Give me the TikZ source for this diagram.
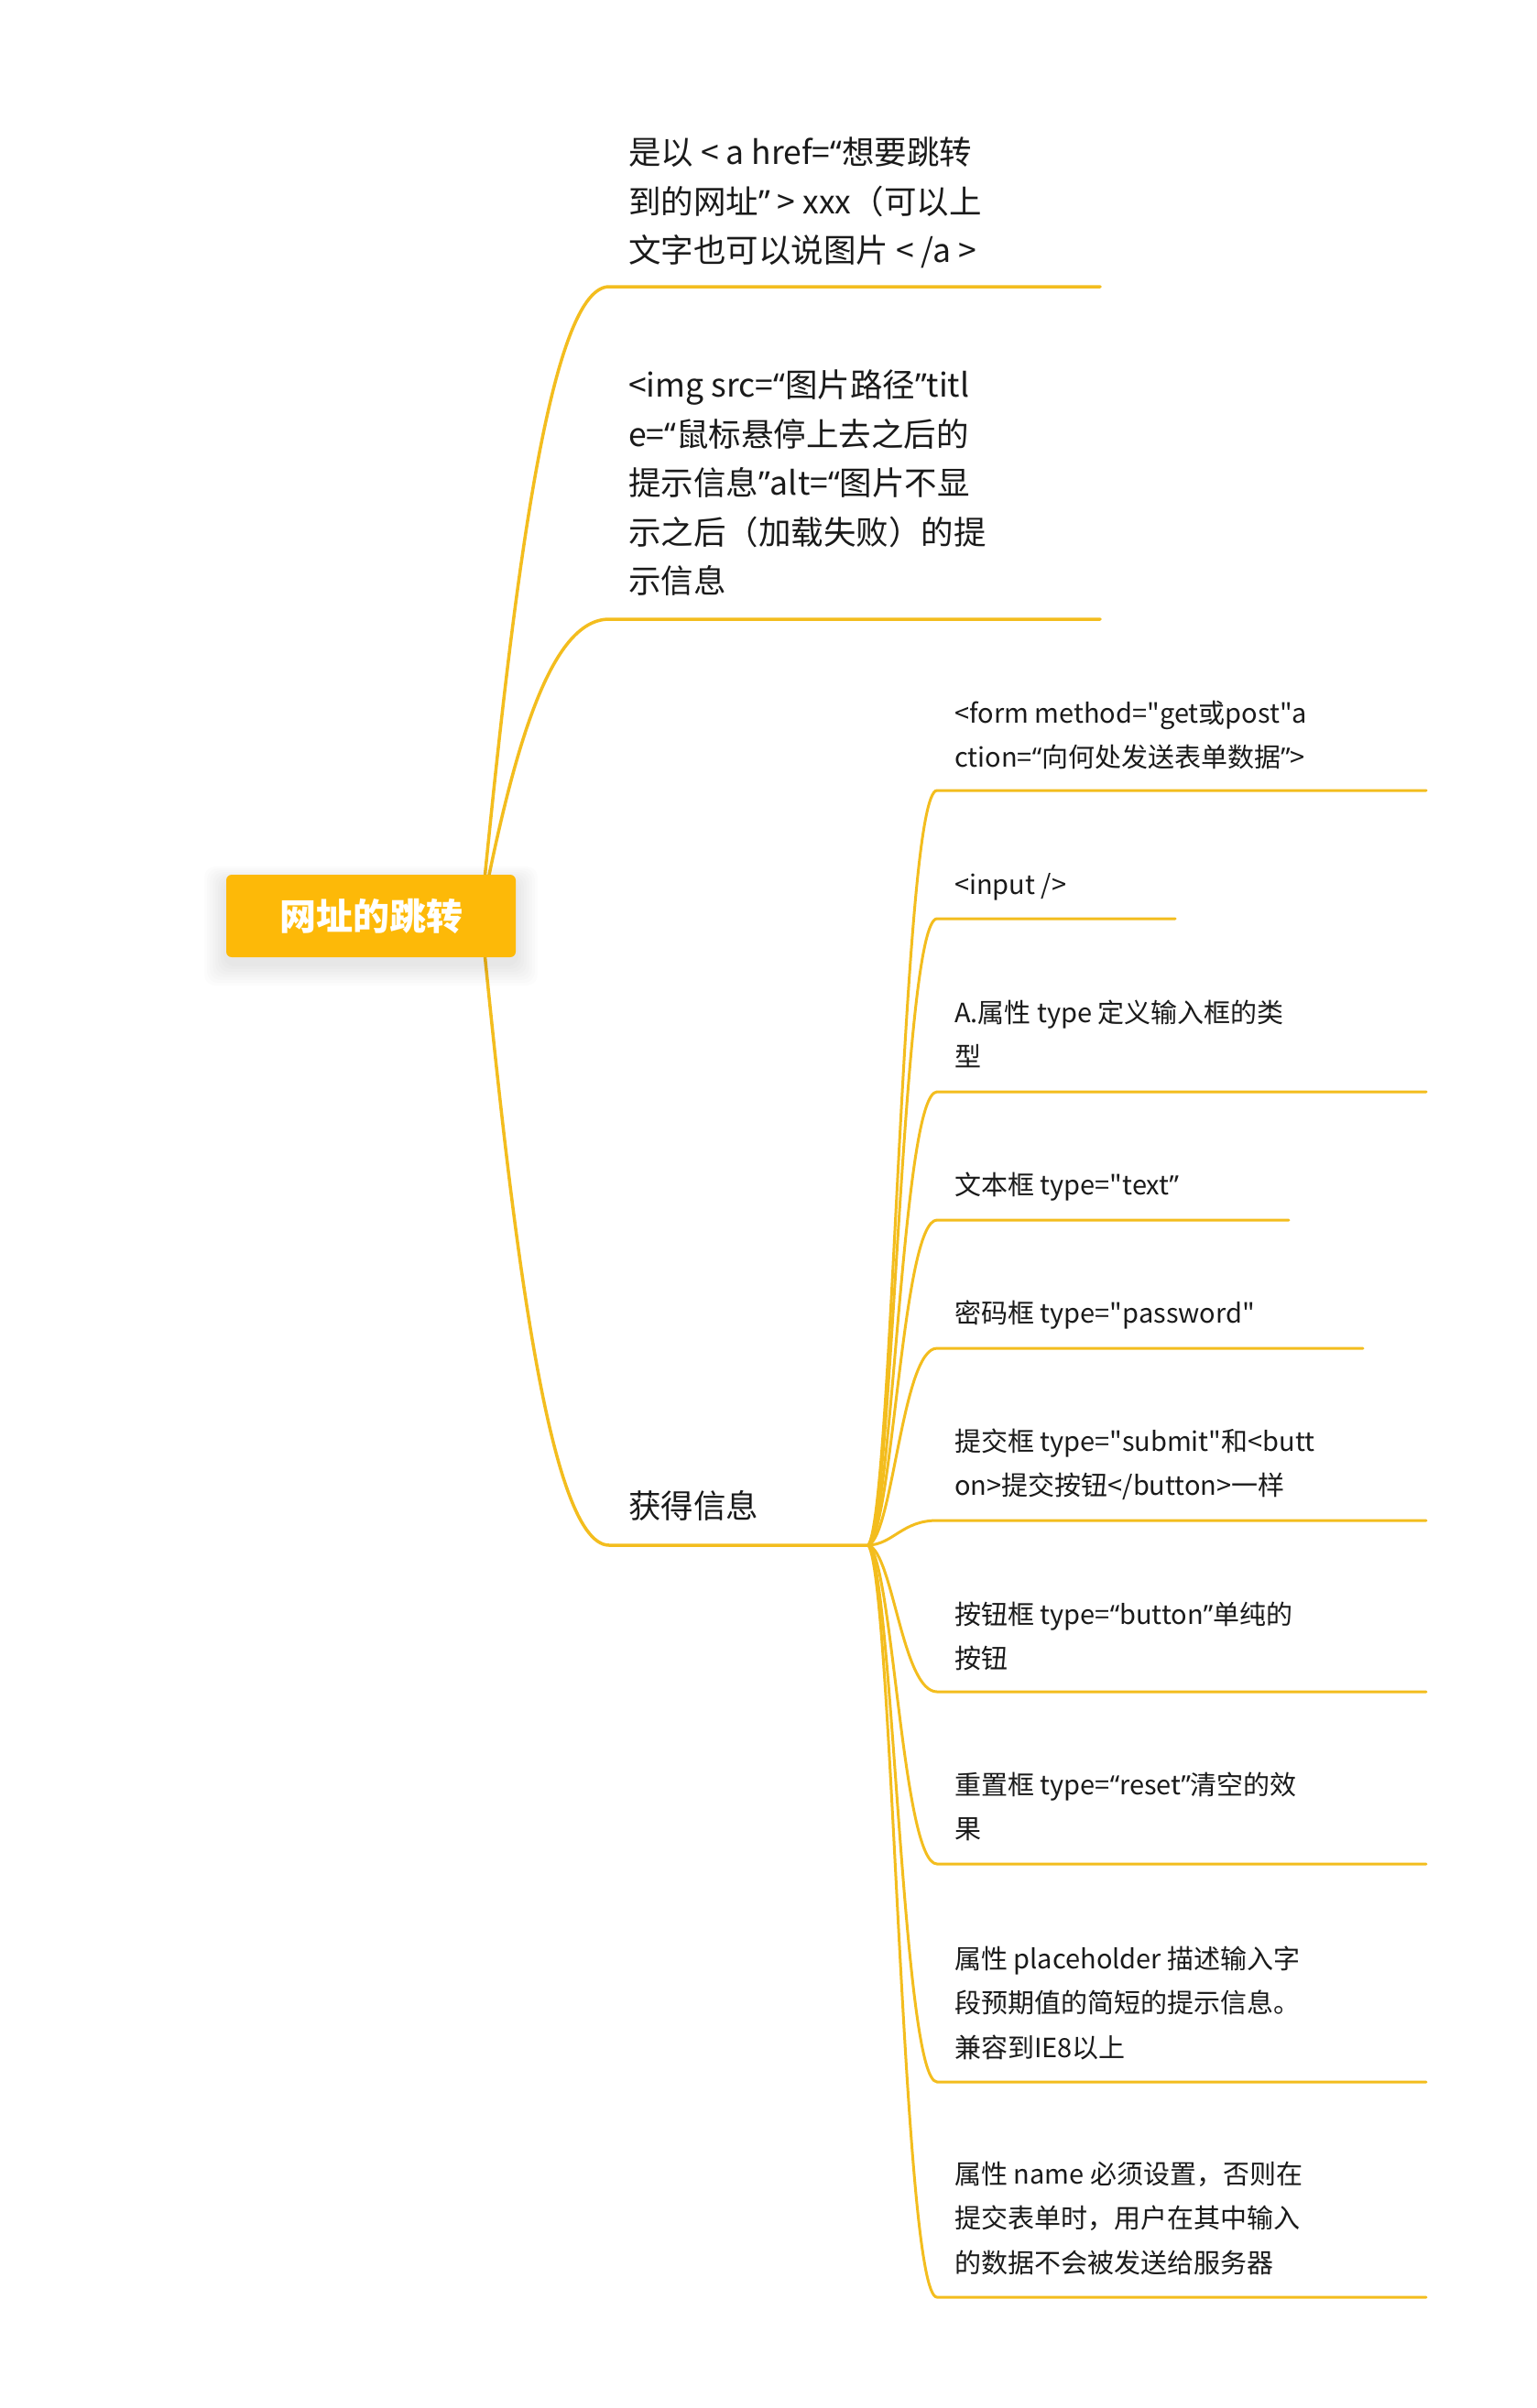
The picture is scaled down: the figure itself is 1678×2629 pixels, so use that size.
\documentclass[tikz,border=0pt]{standalone}
\usepackage{fontspec}
\setmainfont{Noto Sans CJK SC}[Ligatures=TeXOff]
\newfontfamily\qfont{Noto Sans}[Ligatures=TeXOff]
\newcommand\qL{{\qfont “}}
\newcommand\qR{{\qfont ”}}
\definecolor{lineY}{RGB}{243,189,30}
\definecolor{rootY}{RGB}{253,185,8}
\definecolor{txtK}{RGB}{26,26,26}
\newcommand\LBlock[1]{\parbox[t]{470pt}{\raggedright\fontsize{35.5}{53.5}\selectfont #1}}
\newcommand\RBlock[1]{\parbox[t]{560pt}{\raggedright\fontsize{29}{48.5}\selectfont #1}}
\tikzset{
  mainbr/.style={draw=lineY, line width=3.5pt, line cap=round},
  subbr/.style={draw=lineY, line width=3pt, line cap=round},
  lefttxt/.style={anchor=base west, inner sep=0pt, text=txtK},
  righttxt/.style={anchor=base west, inner sep=0pt, text=txtK},
  rootbox/.style={fill=rootY, rounded corners=6pt, minimum width=316pt, minimum height=90pt, inner sep=0pt, text=white, font=\fontsize{40}{48}\selectfont\bfseries}
}
\begin{document}
\begin{tikzpicture}[x=1pt,y=-1pt]
\useasboundingbox[fill=white] (0,0) rectangle (1678,2629);
% ---------- coordinates
\coordinate (rc) at (525,1000);
\coordinate (b1s) at (665,313);  \coordinate (b1e) at (1201,313);
\coordinate (b2s) at (665,676);  \coordinate (b2e) at (1201,676);
\coordinate (b3s) at (665,1687); \coordinate (hub) at (948,1687);
\coordinate (r1s) at (1023,863);  \coordinate (r1e) at (1557,863);
\coordinate (r2s) at (1023,1003); \coordinate (r2e) at (1283,1003);
\coordinate (r3s) at (1023,1192); \coordinate (r3e) at (1557,1192);
\coordinate (r4s) at (1023,1332); \coordinate (r4e) at (1407,1332);
\coordinate (r5s) at (1023,1472); \coordinate (r5e) at (1488,1472);
\coordinate (r6s) at (1023,1660); \coordinate (r6e) at (1557,1660);
\coordinate (r7s) at (1023,1847); \coordinate (r7e) at (1557,1847);
\coordinate (r8s) at (1023,2035); \coordinate (r8e) at (1557,2035);
\coordinate (r9s) at (1023,2273); \coordinate (r9e) at (1557,2273);
\coordinate (r10s) at (1023,2508); \coordinate (r10e) at (1557,2508);
% ---------- main branches
\draw[mainbr] (rc) .. controls (555,700) and (595,313) .. (b1s) -- (b1e);
\draw[mainbr] (rc) .. controls (560,820) and (600,676) .. (b2s) -- (b2e);
\draw[mainbr] (rc) .. controls (555,1300) and (595,1687) .. (b3s) -- (hub);
% ---------- sub branches
\draw[subbr] (hub) .. controls (975,1646) and (985,863) .. (r1s) -- (r1e);
\draw[subbr] (hub) .. controls (975,1653) and (985,1003) .. (r2s) -- (r2e);
\draw[subbr] (hub) .. controls (975,1662) and (985,1192) .. (r3s) -- (r3e);
\draw[subbr] (hub) .. controls (975,1669) and (985,1332) .. (r4s) -- (r4e);
\draw[subbr] (hub) .. controls (975,1676) and (985,1472) .. (r5s) -- (r5e);
\draw[subbr] (hub) .. controls (975,1686) and (985,1660) .. (r6s) -- (r6e);
\draw[subbr] (hub) .. controls (975,1695) and (985,1847) .. (r7s) -- (r7e);
\draw[subbr] (hub) .. controls (975,1704) and (985,2035) .. (r8s) -- (r8e);
\draw[subbr] (hub) .. controls (975,1716) and (985,2273) .. (r9s) -- (r9e);
\draw[subbr] (hub) .. controls (975,1728) and (985,2508) .. (r10s) -- (r10e);
% ---------- root shadow and root
\foreach \i in {1,...,8}
  \fill[black, opacity=0.012, rounded corners=12pt] (247-\i*3, 962-\i*2) rectangle (563+\i*3, 1052+\i*3);
\node[rootbox] (root) at (405,1000) {网址的跳转};
% ---------- texts
\node[lefttxt] (t1) at (686,179.5) {\LBlock{是以 < a href=\qL{}想要跳转\\到的网址\qR{} > xxx（可以上\\文字也可以说图片 < /a >}};
\node[lefttxt] (t2) at (686,433.5) {\LBlock{<img src=\qL{}图片路径\qR{}titl\\e=\qL{}鼠标悬停上去之后的\\提示信息\qR{}alt=\qL{}图片不显\\示之后（加载失败）的提\\示信息}};
\node[lefttxt] (t3) at (686,1657.5) {\LBlock{获得信息}};
\node[righttxt] (s1) at (1042,789) {\RBlock{<form method="get或post"a\\ction=\qL{}向何处发送表单数据\qR{}>}};
\node[righttxt] (s2) at (1042,976) {\RBlock{<input />}};
\node[righttxt] (s3) at (1042,1116) {\RBlock{A.属性 type 定义输入框的类\\型}};
\node[righttxt] (s4) at (1042,1304) {\RBlock{文本框 type="text\qR{}}};
\node[righttxt] (s5) at (1042,1444) {\RBlock{密码框 type="password"}};
\node[righttxt] (s6) at (1042,1584) {\RBlock{提交框 type="submit"和<butt\\on>提交按钮</button>一样}};
\node[righttxt] (s7) at (1042,1773) {\RBlock{按钮框 type=\qL{}button\qR{}单纯的\\按钮}};
\node[righttxt] (s8) at (1042,1959) {\RBlock{重置框 type=\qL{}reset\qR{}清空的效\\果}};
\node[righttxt] (s9) at (1042,2149) {\RBlock{属性 placeholder 描述输入字\\段预期值的简短的提示信息。\\兼容到IE8以上}};
\node[righttxt] (s10) at (1042,2384) {\RBlock{属性 name 必须设置，否则在\\提交表单时，用户在其中输入\\的数据不会被发送给服务器}};
\end{tikzpicture}
\end{document}
